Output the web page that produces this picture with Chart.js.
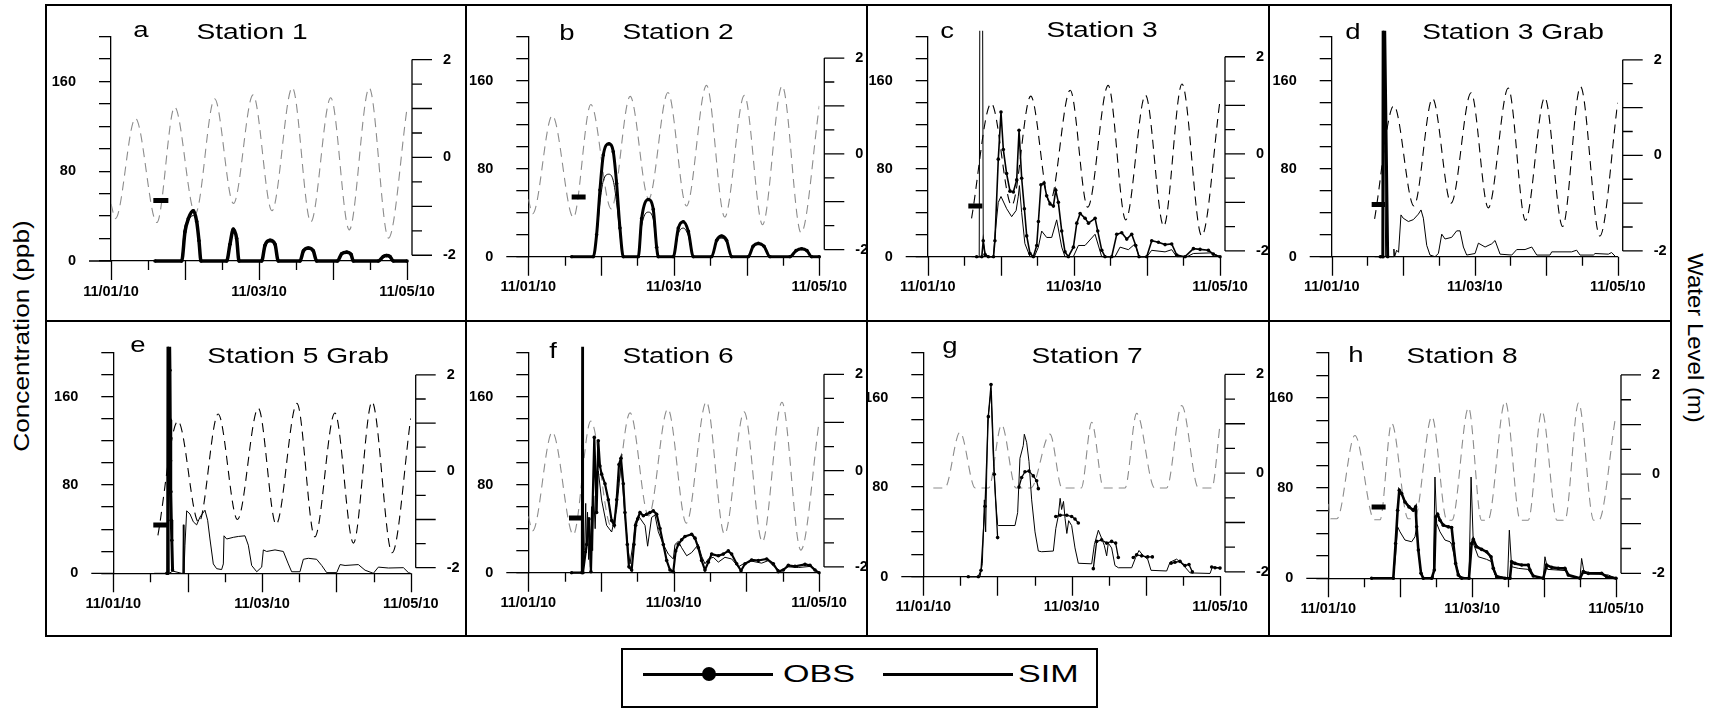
<!DOCTYPE html>
<html>
<head>
<meta charset="utf-8">
<script src="https://cdn.jsdelivr.net/npm/chart.js@4.4.1/dist/chart.umd.min.js"></script>
<style>
  body { margin: 0; background: #fff; width: 1721px; height: 709px; position: relative; overflow: hidden;
         font-family: "Liberation Sans", Arial, sans-serif; color: #000; }
  canvas { position: absolute; }
  .ln { position: absolute; background: #000; }
  .vt { position: absolute; white-space: nowrap; font-size: 22px; transform-origin: center center; }
  #legend { position: absolute; left: 621px; top: 648px; width: 477px; height: 60px; border: 2px solid #000; box-sizing: border-box; }
  .lg-line { position: absolute; height: 2.5px; background: #000; }
  .lg-dot { position: absolute; width: 14px; height: 14px; border-radius: 50%; background: #000; }
  .lg-txt { position: absolute; font-size: 24px; line-height: 24px; transform-origin: left center; transform: scaleX(1.42); }
</style>
</head>
<body>

<!-- panel frame -->
<div class="ln" style="left:45px;top:4px;width:1627px;height:2px"></div>
<div class="ln" style="left:45px;top:635px;width:1627px;height:2px"></div>
<div class="ln" style="left:45px;top:4px;width:2px;height:633px"></div>
<div class="ln" style="left:1670px;top:4px;width:2px;height:633px"></div>
<div class="ln" style="left:465px;top:4px;width:2px;height:633px"></div>
<div class="ln" style="left:866px;top:4px;width:2px;height:633px"></div>
<div class="ln" style="left:1268px;top:4px;width:2px;height:633px"></div>
<div class="ln" style="left:45px;top:320px;width:1627px;height:2px"></div>

<div class="vt" style="left:22px;top:336px;transform:translate(-50%,-50%) rotate(-90deg) scaleX(1.19)">Concentration (ppb)</div>
<div class="vt" style="left:1695px;top:338px;transform:translate(-50%,-50%) rotate(90deg) scaleX(1.09)">Water Level (m)</div>

<div id="legend"></div>

<canvas id="pa"></canvas><canvas id="pb"></canvas><canvas id="pc"></canvas><canvas id="pd"></canvas>
<canvas id="pe"></canvas><canvas id="pf"></canvas><canvas id="pg"></canvas><canvas id="ph"></canvas>

<script>
// x values are days after 11/01/10 00:00, concentrations in ppb, water level in m
const dateTicks = [0, 2, 4];
const dateLabels = ['11/01/10', '11/03/10', '11/05/10'];
const dayTicks = [0, 0.5, 1, 1.5, 2, 2.5, 3, 3.5, 4];
const concLabels = [0, 80, 160];
const levelTicks = [-2, -1.5, -1, -0.5, 0, 0.5, 1, 1.5, 2];
const levelLabels = [2, 0, -2];

// water level series
const tideA = [[0,-0.95],[0.06,-1.25],[0.33,0.8],[0.62,-1.33],[0.86,1.03],[1.14,-1.15],[1.40,1.2],[1.655,-0.94],
  [1.92,1.28],[2.175,-1.09],[2.45,1.43],[2.70,-1.32],[2.97,1.22],[3.22,-1.48],[3.49,1.42],[3.75,-1.65],[4.0,1.0]];
const tideC = [[0.60,-1.33],[0.87,1.04],[1.15,-1.06],[1.41,1.19],[1.67,-1.0],[1.95,1.31],[2.19,-1.1],[2.47,1.41],
  [2.71,-1.36],[2.98,1.21],[3.23,-1.49],[3.48,1.44],[3.75,-1.69],[4.0,1.1]];
const tideG = [[0.135,-0.3],[0.29,-0.3],[0.495,0.83],[0.70,-0.3],[0.88,-0.3],[1.056,0.98],[1.25,-0.3],[1.45,-0.3],
  [1.708,0.79],[1.87,-0.3],[2.13,-0.3],[2.27,1.03],[2.43,-0.3],[2.72,-0.3],[2.876,1.21],[3.12,-0.3],[3.28,-0.3],
  [3.484,1.37],[3.71,-0.3],[3.89,-0.3],[4.0,0.98]];
const tideH = [[0,-0.6],[0.03,-0.9],[0.12,-0.9],[0.37,0.78],[0.64,-0.92],[0.72,-0.92],[0.88,1.03],[1.11,-0.9],[1.2,-0.9],
  [1.44,1.16],[1.65,-0.93],[1.72,-0.93],[1.95,1.34],[2.13,-0.93],[2.22,-0.93],[2.46,1.47],[2.67,-0.93],[2.78,-0.93],
  [2.97,1.27],[3.18,-0.93],[3.29,-0.93],[3.48,1.44],[3.69,-0.93],[3.76,-0.93],[3.99,1.12]];

// Station 1
const obsA = [[0.595,0],[0.955,0],[1.0,26],[1.045,37.7],[1.113,44.8],[1.158,35.2],[1.189,18],[1.216,0],[1.563,0],[1.608,15],
  [1.653,28.4],[1.698,20],[1.73,0],[2.036,0],[2.081,14],[2.149,18.4],[2.216,15],[2.261,0],[2.554,0],[2.6,9],[2.667,11.6],
  [2.734,9],[2.779,0],[3.059,0],[3.117,6.5],[3.185,7.9],[3.243,6],[3.275,0],[3.613,0],[3.68,4],[3.725,4.8],[3.77,4],[3.815,0],[4.0,0]];
const simA = [[0.6,0],[0.95,0],[0.99,28],[1.04,36],[1.11,40.5],[1.16,33],[1.19,16],[1.22,0],[1.56,0],[1.61,14],[1.655,25.5],
  [1.70,18],[1.73,0],[2.04,0],[2.085,13],[2.15,17],[2.22,14],[2.26,0],[2.555,0],[2.6,8.5],[2.667,10.5],[2.735,8.5],[2.78,0],
  [3.06,0],[3.12,6],[3.185,7],[3.245,5.5],[3.275,0],[3.615,0],[3.68,3.5],[3.725,4.2],[3.77,3.5],[3.815,0],[4.0,0]];
const markA = [[0.572,53.9],[0.775,53.9]];

// Station 2
const obsB = [[0.596,0],[0.893,0],[0.939,20],[0.985,60.7],[1.031,92.5],[1.109,102.6],[1.168,95.4],[1.214,66.5],[1.26,26],
  [1.306,0],[1.512,0],[1.558,34.7],[1.649,52],[1.718,43],[1.764,8.7],[1.787,0],[1.993,0],[2.062,26],[2.131,31.8],[2.2,23],
  [2.268,0],[2.52,0],[2.59,15],[2.657,18.8],[2.725,15],[2.795,0],[3.024,0],[3.09,9.5],[3.162,12.1],[3.24,9.5],[3.322,0],
  [3.597,0],[3.68,5.5],[3.757,7.2],[3.83,5.5],[3.895,0],[4.0,0]];
const simB = [[0.6,0],[0.893,0],[0.939,18],[0.985,49],[1.031,69],[1.109,75],[1.168,69],[1.214,49],[1.26,20],[1.30,0],
  [1.512,0],[1.558,28],[1.649,40.5],[1.718,34],[1.764,7],[1.787,0],[1.993,0],[2.062,21],[2.131,26],[2.2,19],[2.268,0],
  [2.52,0],[2.59,13.5],[2.657,16.8],[2.725,13.5],[2.795,0],[3.024,0],[3.09,8.5],[3.162,11],[3.24,8.5],[3.322,0],
  [3.597,0],[3.68,5],[3.757,6.5],[3.83,5],[3.895,0],[4.0,0]];
const markB = [[0.596,54.3],[0.788,54.3]];

// Station 3
const obsC = [[0.67,0],[0.74,0],[0.76,14.5],[0.785,2],[0.83,0],[0.9,0],[0.92,14.5],[0.966,88.7],[1.003,131.5],[1.035,97.4],
  [1.08,75.6],[1.126,59.6],[1.172,58.8],[1.218,69.8],[1.25,114.9],[1.286,71.3],[1.323,43.6],[1.355,18.9],[1.4,2.9],[1.446,0],
  [1.492,10.2],[1.515,32],[1.55,65.4],[1.592,66.9],[1.628,55.3],[1.674,48],[1.72,46],[1.752,60.5],[1.788,49.4],[1.834,23.3],
  [1.879,4.4],[1.925,0],[1.994,8.7],[2.04,30.5],[2.086,39.3],[2.154,34.9],[2.2,30.5],[2.291,34.9],[2.327,23.3],[2.382,5.8],
  [2.427,0],[2.518,0],[2.587,20.4],[2.655,21.8],[2.724,16],[2.792,20.4],[2.847,10.2],[2.892,0],[2.997,0],[3.066,14.5],
  [3.157,13.1],[3.248,11],[3.339,11.6],[3.408,1.5],[3.522,0],[3.636,7.3],[3.727,6.7],[3.841,5.8],[3.909,2.3],[4.0,0]];
const simC = [[0.60,0],[0.705,0],[0.716,300],[0.748,300],[0.76,14],[0.785,2],[0.83,0],[0.9,0],[0.921,20.4],[0.966,49.4],
  [1.003,54.7],[1.081,43.6],[1.149,36.4],[1.21,42],[1.24,55],[1.255,64.6],[1.286,40],[1.33,12],[1.4,0],[1.46,0],[1.514,8.7],
  [1.56,23.3],[1.628,17.5],[1.697,17.5],[1.765,33.5],[1.834,8.7],[1.879,0],[1.993,0],[2.062,10.2],[2.153,10.2],[2.29,20.4],
  [2.381,0],[2.563,0],[2.632,8.7],[2.746,6.4],[2.837,11.6],[2.892,0],[3.0,0],[3.065,5.8],[3.248,4.4],[3.339,6.4],[3.407,0],
  [3.55,0],[3.635,2.9],[3.886,3.5],[4.0,0]];
const markC = [[0.556,46],[0.748,46]];

// Station 3 Grab
const obsD = [[0.68,0],[0.715,0],[0.722,300],[0.783,0]];
const simD = [[0.60,0],[0.712,0],[0.722,260],[0.755,0],[0.86,0],[0.87,7],[0.88,0],[0.908,5.9],[0.935,4],[0.969,38],[1.0,35],
  [1.072,32],[1.142,33.7],[1.212,38.7],[1.249,42.5],[1.282,35],[1.329,10.3],[1.375,1.5],[1.445,0],[1.492,2.9],[1.539,20.5],
  [1.585,16.1],[1.678,17.6],[1.748,23.5],[1.795,23.5],[1.842,8.8],[1.888,1.5],[2.005,2.9],[2.052,12.3],[2.145,8.8],
  [2.238,11.7],[2.285,14.7],[2.355,2.3],[2.518,1.5],[2.588,6.5],[2.704,6.5],[2.798,8.8],[2.868,1.5],[3.053,1.5],[3.077,4.4],
  [3.356,4.4],[3.426,5.9],[3.473,1.5],[3.66,1.5],[3.683,2.9],[3.869,2.3],[3.915,3.8],[3.962,0.6]];
const markD = [[0.559,47.5],[0.746,47.5]];

// Station 5 Grab
const obsE = [[0.72,0],[0.731,0],[0.738,320],[0.762,184],[0.766,139],[0.77,102],[0.775,74],[0.78,48],[0.787,30],[0.797,3]];
const simE = [[0.55,0],[0.725,0],[0.735,320],[0.752,0],[0.80,2],[0.919,0],[0.935,0],[0.942,44],[0.95,0],[0.964,25.5],
  [0.987,56.6],[1.031,53.8],[1.076,46.7],[1.121,43.9],[1.166,51],[1.233,57.2],[1.269,48.1],[1.3,31.1],[1.345,8.5],
  [1.39,4.2],[1.457,3.4],[1.48,8.5],[1.489,34],[1.525,31.1],[1.614,32.6],[1.682,33.4],[1.771,34],[1.816,25.5],[1.861,7.1],
  [1.929,1.4],[1.996,5.6],[2.018,21.2],[2.063,19.8],[2.175,21.2],[2.287,19.8],[2.354,8.5],[2.399,1.4],[2.511,1.4],
  [2.556,12.7],[2.623,13.6],[2.735,12.7],[2.803,7.1],[2.87,0.6],[3.005,0.6],[3.05,7.9],[3.117,7.1],[3.296,7.9],[3.386,2.8],
  [3.498,0],[3.565,5.6],[3.7,4.8],[3.902,5.1],[3.969,0.6],[4.0,0]];
const markE = [[0.538,43.9],[0.74,43.9]];

// Station 6
const obsF = [[0.596,0],[0.738,0],[0.745,300],[0.752,0],[0.803,25.6],[0.835,48.9],[0.862,0.9],[0.908,123],[0.94,54.7],
  [0.963,120],[0.986,96.9],[1.009,89.6],[1.055,80.9],[1.101,66.3],[1.147,47.4],[1.183,43.1],[1.216,66.3],[1.248,98.3],
  [1.275,104.1],[1.307,80.9],[1.33,54.7],[1.362,25.6],[1.385,5.3],[1.422,2.4],[1.454,25.6],[1.477,43.1],[1.505,48.9],
  [1.537,54.7],[1.583,51.8],[1.628,53.2],[1.674,54.7],[1.72,56.2],[1.766,53.2],[1.812,40.2],[1.858,25.6],[1.904,11.1],
  [1.95,2.4],[1.995,0.9],[2.028,19.8],[2.064,25.6],[2.11,30],[2.156,32.9],[2.248,34.9],[2.294,31.4],[2.339,22.7],
  [2.385,11.1],[2.431,2.4],[2.477,9.6],[2.523,16.9],[2.615,15.4],[2.683,16.9],[2.752,19.8],[2.798,16.9],[2.867,8.1],
  [2.927,1.8],[2.982,8.1],[3.073,11.6],[3.165,11.1],[3.28,12.5],[3.372,8.1],[3.44,0.9],[3.509,2.4],[3.578,6.7],[3.67,5.8],
  [3.807,7.6],[3.876,6.7],[3.945,2.4],[4.0,0]];
const simF = [[0.60,0],[0.74,0],[0.775,20],[0.79,63],[0.80,18],[0.815,55],[0.83,12],[0.84,40],[0.855,5],[0.87,60],[0.885,20],
  [0.9,70],[0.92,40],[0.945,90],[0.963,92.5],[1.009,66],[1.078,43],[1.147,37],[1.216,57.6],[1.275,98.3],[1.33,52],
  [1.376,20],[1.40,8],[1.445,28.5],[1.468,45],[1.514,51.8],[1.606,43],[1.642,24.1],[1.697,50.3],[1.743,52.4],[1.789,37.2],
  [1.858,25.6],[1.927,16.9],[1.995,12.5],[2.018,25.6],[2.064,28.5],[2.11,22.7],[2.179,15.4],[2.248,18.3],[2.339,25.6],
  [2.385,15],[2.431,8.1],[2.477,12.5],[2.546,14],[2.615,9.6],[2.706,14],[2.798,12.5],[2.89,5.3],[2.958,8],[3.073,10.5],
  [3.211,8.7],[3.303,11],[3.372,6],[3.463,2],[3.578,5.3],[3.716,4.7],[3.89,5.8],[4.0,0]];
const markF = [[0.56,49.8],[0.757,49.8]];

// Station 7 (gaps in the observations are null)
const obsG = [[0.607,0],[0.742,0],[0.778,5.7],[0.832,62.9],[0.877,142.9],[0.913,171.5],[0.957,91.5],[1.002,34.9],[1.1,null],
  [1.29,80],[1.326,88.6],[1.371,93.7],[1.425,94.3],[1.483,90],[1.528,85.7],[1.551,78.6],[1.65,null],[1.786,53.7],[1.845,54.9],
  [1.935,54.9],[2.0,53.7],[2.045,51.5],[2.09,48],[2.2,null],[2.292,7.2],[2.337,31.5],[2.404,32.9],[2.472,30],[2.539,31.5],
  [2.593,30],[2.629,17.2],[2.7,null],[2.831,17.2],[2.876,19.5],[2.944,18.6],[3.025,17.7],[3.088,17.7],[3.2,null],[3.34,12],
  [3.393,12.9],[3.461,13.7],[3.528,10],[3.582,10.9],[3.627,4.3],[3.75,null],[3.888,8.6],[3.933,8],[4.0,7.7]];
const simG = [[0.607,0],[0.765,0],[0.796,11.5],[0.823,68.6],[0.841,40],[0.868,140],[0.913,165.7],[0.944,105.7],[0.975,68.6],
  [1.002,46.3],[1.011,45.7],[1.236,45.7],[1.272,57.2],[1.303,105.7],[1.348,117.2],[1.362,127.2],[1.393,120],[1.425,102.9],
  [1.461,68.6],[1.506,40],[1.551,22.9],[1.596,22.3],[1.753,22.9],[1.786,42.9],[1.82,54.3],[1.845,70],[1.865,60],[1.89,67.2],
  [1.911,52],[1.935,38.6],[1.96,50],[2.0,45.7],[2.045,25.7],[2.09,12],[2.27,11.5],[2.306,28.6],[2.36,41.5],[2.404,34.3],
  [2.44,28],[2.472,18.6],[2.494,30],[2.539,25.7],[2.584,10],[2.629,8],[2.809,8],[2.863,17.2],[2.908,23.4],[2.966,18.6],
  [3.025,15.7],[3.07,5.7],[3.281,5.1],[3.326,12.9],[3.416,15.7],[3.461,13],[3.528,8.6],[3.596,3.4],[3.866,2.9],[3.897,8.6],[4.0,8]];

// Station 8
const obsH = [[0.602,0],[0.904,0],[0.936,30.9],[0.964,60.3],[0.987,78],[1.02,75.1],[1.066,67.7],[1.122,63.3],[1.182,60.3],
  [1.214,63.3],[1.228,45.6],[1.252,25],[1.289,4.4],[1.321,0],[1.437,0],[1.474,7.3],[1.493,54.4],[1.52,56.7],[1.553,51.5],
  [1.599,47.1],[1.668,45.6],[1.715,45],[1.738,30.9],[1.77,13.2],[1.807,2.9],[1.854,0],[1.956,0],[1.993,30.9],[2.016,34.5],
  [2.062,28],[2.132,25.6],[2.201,23.5],[2.262,19.1],[2.294,8.8],[2.341,1.4],[2.456,0],[2.526,0],[2.549,14.7],[2.596,13.2],
  [2.688,11.8],[2.781,11.8],[2.804,7.3],[2.85,2.1],[2.989,0],[3.035,11.8],[3.105,9.7],[3.198,8.8],[3.29,8.8],[3.337,2.9],
  [3.499,0],[3.545,5.9],[3.615,4.4],[3.8,4.4],[3.87,1.4],[4.0,0]];
const simH = [[0.602,0],[0.904,0],[0.936,20.6],[0.964,45.6],[0.997,41.2],[1.066,33.9],[1.159,32.4],[1.205,36.8],[1.228,45.6],
  [1.252,25],[1.289,4.4],[1.321,0],[1.46,0],[1.483,89.8],[1.507,48.6],[1.553,41.2],[1.622,33.9],[1.692,32.4],[1.715,30],
  [1.784,10.3],[1.83,1.5],[1.956,0],[1.985,89.8],[2.016,30.9],[2.085,19.1],[2.201,16.8],[2.271,14.7],[2.317,2.9],[2.493,0],
  [2.517,42.7],[2.549,10.3],[2.642,8.8],[2.781,7.9],[2.827,2.9],[2.989,0],[3.012,19.1],[3.049,7.9],[3.198,7.3],[3.313,6.8],
  [3.36,1.5],[3.499,0],[3.522,17.6],[3.559,4.4],[3.754,3.8],[3.893,2.9],[4.0,0]];
const markH = [[0.602,63.3],[0.797,63.3]];

// page geometry of each panel (px): cell, plot left/right, y of 0 and 200 ppb, y of +2 and -2 m, title spots
const GRAY = '#8c8c8c', BLACK = '#000';
const panels = [
  { el: 'pa', letter: 'a', name: 'Station 1', obs: obsA, sim: simA, mark: markA, tide: tideA, tideColor: GRAY, smooth: true, obsW: 3.5,
    cell: [46, 5, 466, 320], L: 111, R: 407, y0: 261, y200: 26, r2: 50, rm2: 255, lx: 141, lb: 37, nx: 252, nb: 38.5 },
  { el: 'pb', letter: 'b', name: 'Station 2', obs: obsB, sim: simB, mark: markB, tide: tideA, tideColor: GRAY, smooth: true, obsW: 3,
    cell: [466, 5, 867, 320], L: 528.3, R: 819.3, y0: 256.7, y200: 27, r2: 49.3, rm2: 249.3, lx: 567, lb: 40, nx: 678, nb: 39 },
  { el: 'pc', letter: 'c', name: 'Station 3', obs: obsC, sim: simC, mark: markC, tide: tideC, tideColor: BLACK, smooth: false, obsW: 1.6,
    cell: [867, 5, 1269, 320], L: 927.7, R: 1220, y0: 256.7, y200: 27.4, r2: 48.3, rm2: 250.7, lx: 947, lb: 38.3, nx: 1102, nb: 36.7 },
  { el: 'pd', letter: 'd', name: 'Station 3 Grab', obs: obsD, sim: simD, mark: markD, tide: tideC, tideColor: BLACK, smooth: false, obsW: 3,
    cell: [1269, 5, 1670, 320], L: 1331.7, R: 1617.7, y0: 256.7, y200: 29.4, r2: 53.3, rm2: 250.7, lx: 1353, lb: 39.3, nx: 1513, nb: 39.3 },
  { el: 'pe', letter: 'e', name: 'Station 5 Grab', obs: obsE, sim: simE, mark: markE, tide: tideC, tideColor: BLACK, smooth: false, obsW: 3,
    cell: [46, 321, 466, 636], L: 113.3, R: 410.7, y0: 573.3, y200: 338, r2: 361.7, rm2: 567.3, lx: 138, lb: 351.7, nx: 298, nb: 363.3 },
  { el: 'pf', letter: 'f', name: 'Station 6', obs: obsF, sim: simF, mark: markF, tide: tideA, tideColor: GRAY, smooth: false, obsW: 2.2,
    cell: [466, 321, 867, 636], L: 528.3, R: 819, y0: 572.7, y200: 343.5, r2: 366, rm2: 566.7, lx: 553, lb: 358.3, nx: 678, nb: 363.3 },
  { el: 'pg', letter: 'g', name: 'Station 7', obs: obsG, sim: simG, mark: null, tide: tideG, tideColor: GRAY, smooth: false, obsW: 1.3,
    cell: [867, 321, 1269, 636], L: 923.3, R: 1220, y0: 576.7, y200: 343.4, r2: 366, rm2: 571.7, lx: 950, lb: 353.3, nx: 1087, nb: 363.3 },
  { el: 'ph', letter: 'h', name: 'Station 8', obs: obsH, sim: simH, mark: markH, tide: tideH, tideColor: GRAY, smooth: false, obsW: 2.6,
    cell: [1269, 321, 1670, 636], L: 1328.3, R: 1616, y0: 578.3, y200: 352, r2: 374.3, rm2: 573.3, lx: 1356, lb: 361.7, nx: 1462, nb: 363.3 }
];

const toXY = arr => arr.map(p => ({ x: p[0], y: p[1] }));
const TICK_FONT = '"Liberation Sans", Arial, sans-serif';

// titles, x tick marks and the right-hand water level axis
const panelDeco = {
  id: 'panelDeco',
  afterDraw(chart, args, o) {
    const { ctx, chartArea: a } = chart;
    const { x, y, y2 } = chart.scales;
    ctx.save();
    ctx.strokeStyle = '#000';
    ctx.lineWidth = 1.3;
    ctx.beginPath();
    dayTicks.forEach(d => {
      const px = Math.round(x.getPixelForValue(d)) + 0.5;
      ctx.moveTo(px, a.bottom);
      ctx.lineTo(px, a.bottom + (Number.isInteger(d) ? 19 : 9));
    });
    const yz = y.getPixelForValue(0);
    ctx.moveTo(a.left - 22, yz);
    ctx.lineTo(a.left, yz);
    const rx = a.right + 5;
    ctx.moveTo(rx, y2.getPixelForValue(2));
    ctx.lineTo(rx, y2.getPixelForValue(-2));
    levelTicks.forEach(v => {
      const py = y2.getPixelForValue(v);
      ctx.moveTo(rx, py);
      ctx.lineTo(rx + (Number.isInteger(v) ? 20 : 10), py);
    });
    ctx.stroke();

    ctx.fillStyle = '#000';
    ctx.font = 'bold 14.5px ' + TICK_FONT;
    ctx.textAlign = 'left';
    ctx.textBaseline = 'middle';
    levelLabels.forEach(v => ctx.fillText(String(v), rx + 31, y2.getPixelForValue(v)));

    ctx.font = '22px ' + TICK_FONT;
    ctx.textAlign = 'center';
    ctx.textBaseline = 'alphabetic';
    [[o.letter, o.lx, o.lb, 1.25], [o.name, o.nx, o.nb, 1.28]].forEach(([t, tx, ty, sx]) => {
      ctx.save();
      ctx.translate(tx, ty);
      ctx.scale(sx, 1);
      ctx.fillText(t, 0, 0);
      ctx.restore();
    });
    ctx.restore();
  }
};

const X_H = 45;

panels.forEach(p => {
  const cv = document.getElementById(p.el);
  const [cx0, cy0, cx1, cy1] = p.cell;
  const cw = cx1 - cx0, ch = cy1 - cy0;
  cv.width = cw; cv.height = ch;
  cv.style.left = cx0 + 'px'; cv.style.top = cy0 + 'px';
  cv.style.width = cw + 'px'; cv.style.height = ch + 'px';

  const yW = p.L - cx0;              // left axis box fills the space up to the plot
  const top = p.y200 - cy0, bottom = p.y0 - cy0;
  // right axis range so that +2/-2 m land where the reference puts them
  const upp = 4 / (p.rm2 - p.r2);
  const lvMax = 2 + (p.r2 - p.y200) * upp;
  const lvMin = -2 - (p.y0 - p.rm2) * upp;

  const clipTop = { left: 2, top: 6, right: 2, bottom: 2 };
  const datasets = [
    { label: 'Water level', data: toXY(p.tide), yAxisID: 'y2', borderColor: p.tideColor, borderWidth: 1.1,
      borderDash: [9, 6], pointRadius: 0, cubicInterpolationMode: 'monotone', order: 4 },
    { label: 'SIM', data: toXY(p.sim), yAxisID: 'y', borderColor: '#000', borderWidth: 1, pointRadius: 0,
      cubicInterpolationMode: p.smooth ? 'monotone' : 'default', tension: 0, clip: clipTop, order: 3 },
    { label: 'OBS', data: toXY(p.obs), yAxisID: 'y', borderColor: '#000', borderWidth: p.obsW, pointRadius: 1.8,
      pointBackgroundColor: '#000', pointBorderWidth: 0, spanGaps: false,
      cubicInterpolationMode: p.smooth ? 'monotone' : 'default', tension: 0, clip: clipTop, order: 2 }
  ];
  if (p.mark) {
    datasets.push({ label: 'start', data: toXY(p.mark), yAxisID: 'y', borderColor: '#000', borderWidth: 5,
      borderCapStyle: 'butt', pointRadius: 0, order: 1 });
  }

  new Chart(cv, {
    type: 'line',
    data: { datasets },
    options: {
      responsive: false,
      animation: false,
      devicePixelRatio: 1,
      layout: { padding: { left: 0, top: top, right: cw - (p.R - cx0), bottom: ch - bottom - X_H } },
      plugins: {
        legend: { display: false },
        tooltip: { enabled: false },
        panelDeco: { letter: p.letter, name: p.name, lx: p.lx - cx0, lb: p.lb - cy0, nx: p.nx - cx0, nb: p.nb - cy0 }
      },
      scales: {
        x: {
          type: 'linear', min: 0, max: 4,
          afterFit: s => { s.height = X_H; },
          border: { display: true, color: '#000', width: 1.3 },
          grid: { drawOnChartArea: false, drawTicks: true, tickLength: 19, color: 'rgba(0,0,0,0)' },
          ticks: {
            stepSize: 2, autoSkip: false, maxRotation: 0, minRotation: 0, padding: 3, color: '#000',
            font: { family: TICK_FONT, size: 14.5, weight: 'bold' },
            callback: v => { const i = dateTicks.indexOf(v); return i < 0 ? '' : dateLabels[i]; }
          }
        },
        y: {
          position: 'left', min: 0, max: 200,
          afterFit: s => { s.width = yW; },
          border: { display: true, color: '#000', width: 1.3 },
          grid: { drawOnChartArea: false, drawTicks: true, tickLength: 12, color: '#000', lineWidth: 1.3 },
          ticks: {
            stepSize: 20, autoSkip: false, padding: 23, color: '#000',
            font: { family: TICK_FONT, size: 14.5, weight: 'bold' },
            callback: v => concLabels.includes(v) ? String(v) : ''
          }
        },
        y2: { position: 'right', display: false, min: lvMin, max: lvMax }
      }
    },
    plugins: [panelDeco]
  });
});

// legend box
const legend = document.getElementById('legend');
legend.innerHTML =
  '<div class="lg-line" style="left:20px;top:23px;width:130px"></div>' +
  '<div class="lg-dot" style="left:79px;top:17px"></div>' +
  '<div class="lg-txt" style="left:160px;top:12px">OBS</div>' +
  '<div class="lg-line" style="left:260px;top:23px;width:130px"></div>' +
  '<div class="lg-txt" style="left:395px;top:12px">SIM</div>';
</script>
</body>
</html>
